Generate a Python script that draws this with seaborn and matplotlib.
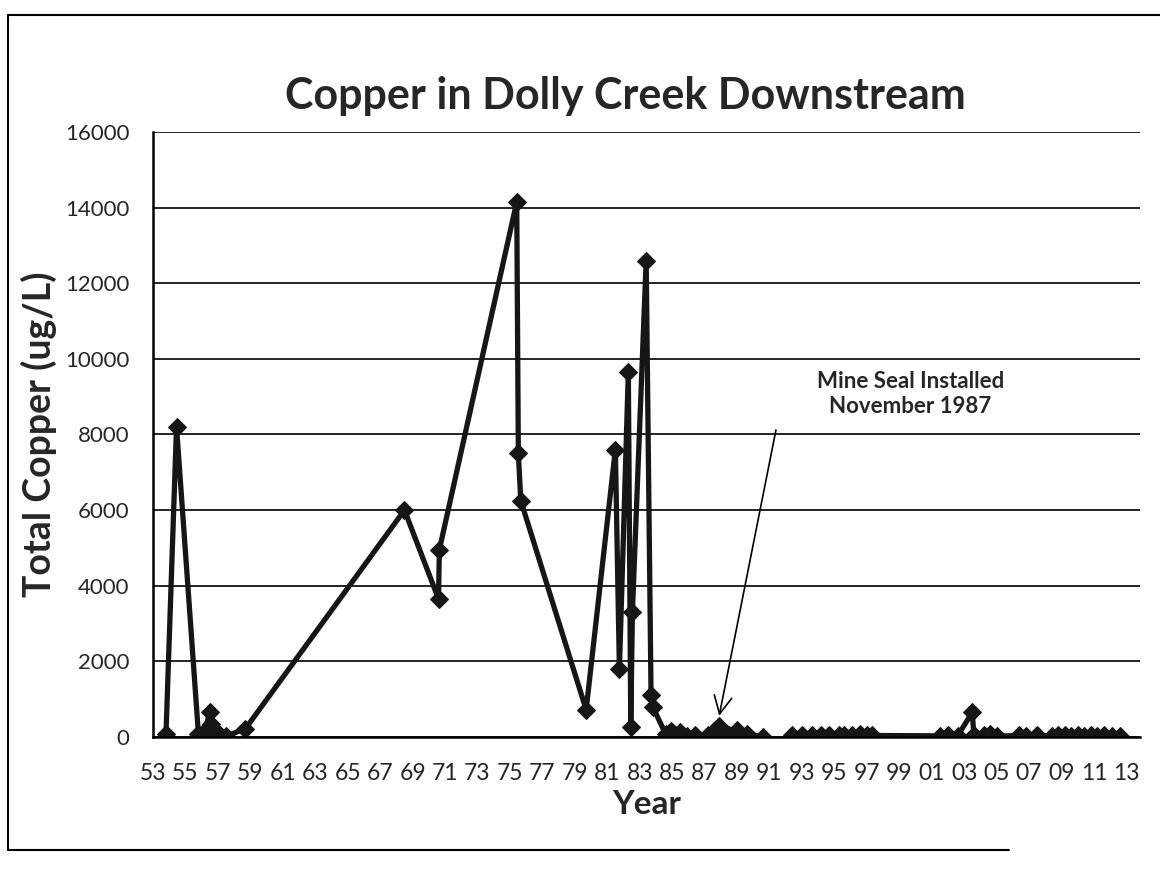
import numpy as np
import pandas as pd
import matplotlib
matplotlib.use("Agg")
import matplotlib.pyplot as plt
import seaborn as sns
from matplotlib.lines import Line2D

# Sample dates (decimal year) and total copper (ug/L)
years = [1953.8, 1954.45, 1955.8, 1956.2, 1956.5, 1956.55, 1956.7, 1957.0, 1957.5, 1958.7,
         1968.5, 1970.6, 1970.65, 1975.42, 1975.52, 1975.67, 1979.7, 1981.5, 1981.75, 1982.3,
         1982.45, 1982.55, 1983.4, 1983.7, 1983.8, 1984.6, 1984.9, 1985.2, 1985.5, 1985.9,
         1986.4, 1987.2, 1987.6, 1987.9, 1988.1, 1988.5, 1989.0, 1989.6, 1990.6]
copper = [80, 8200, 80, 150, 660, 350, 200, 100, 20, 220,
          6000, 3650, 4950, 14150, 7500, 6250, 720, 7600, 1800, 9650,
          270, 3300, 12600, 1100, 800, 80, 150, 50, 120, 30,
          60, 40, 150, 280, 100, 60, 180, 90, 0]

# after a gap in sampling
years_late = [1992.4, 1993.0, 1993.6, 1994.2, 1994.7, 1995.3, 1995.6, 1996.1, 1996.6, 1997.0,
              1997.3, 2001.5, 2002.0, 2002.6, 2003.5, 2003.6, 2004.2, 2004.6, 2005.0, 2006.4,
              2006.8, 2007.5, 2008.4, 2008.8, 2009.2, 2009.6, 2010.0, 2010.4, 2010.8, 2011.2,
              2011.6, 2012.1, 2012.6]
copper_late = [50, 40, 60, 40, 50, 40, 60, 50, 80, 60,
               40, 30, 40, 30, 650, 50, 60, 70, 20, 40,
               30, 40, 30, 50, 40, 30, 40, 30, 40, 30,
               40, 30, 20]

tick_years = list(range(1953, 2014, 2))
y_ticks = [0, 2000, 4000, 6000, 8000, 10000, 12000, 14000, 16000]

df = pd.DataFrame({
    'year': years + years_late,
    'copper': copper + copper_late,
    'segment': [0] * len(years) + [1] * len(years_late),
})

sns.set_style('white')
plt.rcParams['font.family'] = ['Lato', 'DejaVu Sans']

fig = plt.figure(figsize=(11.6, 8.76), dpi=100)
ax = fig.add_axes([0.1319, 0.1587, 0.851, 0.6906])

# Plot the series, broken at the sampling gap
sns.lineplot(data=df, x='year', y='copper', units='segment', estimator=None, sort=False,
             color='#161616', lw=3.8, marker='D', markersize=9, markeredgecolor='#161616',
             ax=ax, legend=False)

# Axes limits and ticks
ax.set_xlim(1953, 2013.85)
ax.set_ylim(0, 16000)
ax.set_xticks(tick_years)
ax.set_xticklabels([f'{y % 100:02d}' for y in tick_years], fontsize=16.5)
ax.set_yticks(y_ticks)
ax.set_yticklabels([str(v) for v in y_ticks], fontsize=16)
ax.tick_params(axis='x', direction='out', length=7, width=1.5, color='black', pad=12)
ax.tick_params(axis='y', direction='out', length=8, width=1.2, color='black', pad=9)
ax.yaxis.grid(True, color='black', lw=1.2)
ax.xaxis.grid(False)
for side in ['top', 'right']:
    ax.spines[side].set_visible(False)
for side in ['left', 'bottom']:
    ax.spines[side].set_color('black')
    ax.spines[side].set_linewidth(1.8)

# Labels and title
ax.set_xlabel('Year', fontsize=24, fontweight='bold', labelpad=4)
ax.set_ylabel('Total Copper (ug/L)', fontsize=27, fontweight='bold')
ax.yaxis.set_label_coords(-0.097, 0.5)
fig.text(0.539, 0.890, 'Copper in Dolly Creek Downstream', ha='center', va='center',
         fontsize=31, fontweight='bold')

# Annotation for the mine seal
ax.text(1999.7, 9076, 'Mine Seal Installed\nNovember 1987', ha='center', va='center',
        fontsize=16, fontweight='bold', linespacing=1.25)
ax.annotate('', xy=(1987.9, 560), xytext=(1991.4, 8120),
            arrowprops=dict(arrowstyle='->', color='black', lw=1.2, mutation_scale=32,
                            shrinkA=0, shrinkB=0))

# Chart area border (left, top, bottom)
fig.add_artist(Line2D([0.007, 0.007], [0.03, 0.983], color='black', lw=1.5))
fig.add_artist(Line2D([0.007, 1.0], [0.983, 0.983], color='black', lw=1.5))
fig.add_artist(Line2D([0.007, 0.87], [0.03, 0.03], color='black', lw=1.5))

fig.savefig('out.png', dpi=100)
